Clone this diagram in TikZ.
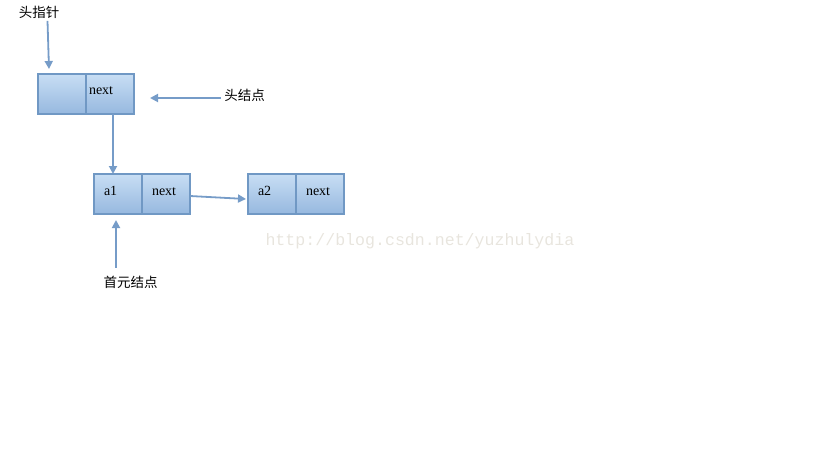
\documentclass[tikz,border=0pt]{standalone}
\usepackage{fontspec}
\setmainfont{Liberation Serif}
\setmonofont{Liberation Mono}
\newfontfamily\cjk{Noto Sans CJK SC}
\usepackage{tikz}
\usetikzlibrary{arrows.meta,positioning}
\definecolor{boxline}{RGB}{112,152,196}
\definecolor{boxtop}{RGB}{200,222,244}
\definecolor{boxbot}{RGB}{150,184,223}
\definecolor{linkc}{RGB}{118,156,200}
\definecolor{wmark}{RGB}{232,229,222}

\begin{document}
\begin{tikzpicture}[x=1pt,y=-1pt,>={Triangle[length=8pt,width=8pt]},
  every node/.style={font=\fontsize{14}{16}\selectfont},
  cell/.style={draw=boxline,line width=2.1pt,top color=boxtop,bottom color=boxbot,
    minimum height=40pt,inner ysep=0pt,inner xsep=10pt,text width=28pt,align=left,
    text height=7pt,text depth=5pt,outer sep=0pt},
  link/.style={->,draw=linkc,line width=1.8pt},
  lbl/.style={font=\cjk\fontsize{13.5}{15}\selectfont,inner sep=0pt}]
  \useasboundingbox (0,0) rectangle (819,460);
  % watermark
  \node[font=\ttfamily\fontsize{16.6}{18}\selectfont,text=wmark,anchor=west] (wm) at (262,241) {http://blog.csdn.net/yuzhulydia};
  % head node
  \node[cell] (hd) at (62,94) {};
  \node[cell,inner xsep=3pt,text width=42pt] (hn) at (110,94) {next};
  % first element and second element
  \node[cell] (a1) at (118,194) {a1};
  \node[cell] (a1n) at (166,194) {next};
  \node[cell] (a2) at (272,194) {a2};
  \node[cell] (a2n) at (320,194) {next};
  % labels
  \node[lbl] (ptr) at (39,12.5) {头指针};
  \node[lbl] (hlbl) at (244.5,95) {头结点};
  \node[lbl] (flbl) at (130.5,282) {首元结点};
  % links
  \draw[link] ([xshift=8.5pt,yshift=-2pt]ptr.south) -- ([xshift=11pt,yshift=5pt]hd.north west);
  \draw[link] ([xshift=-3pt,yshift=-3pt]hlbl.west) -- ([xshift=16pt,yshift=-4pt]hn.east);
  \draw[link] ([xshift=3pt]hn.south) -- ([xshift=-5pt]a1.north);
  \draw[link] ([yshift=-2pt]a1n.east) -- ([xshift=-2pt,yshift=-5pt]a2.west);
  \draw[link] ([xshift=-14.5pt,yshift=8pt]flbl.north) -- ([xshift=-2pt,yshift=-6pt]a1.south);
\end{tikzpicture}
\end{document}
